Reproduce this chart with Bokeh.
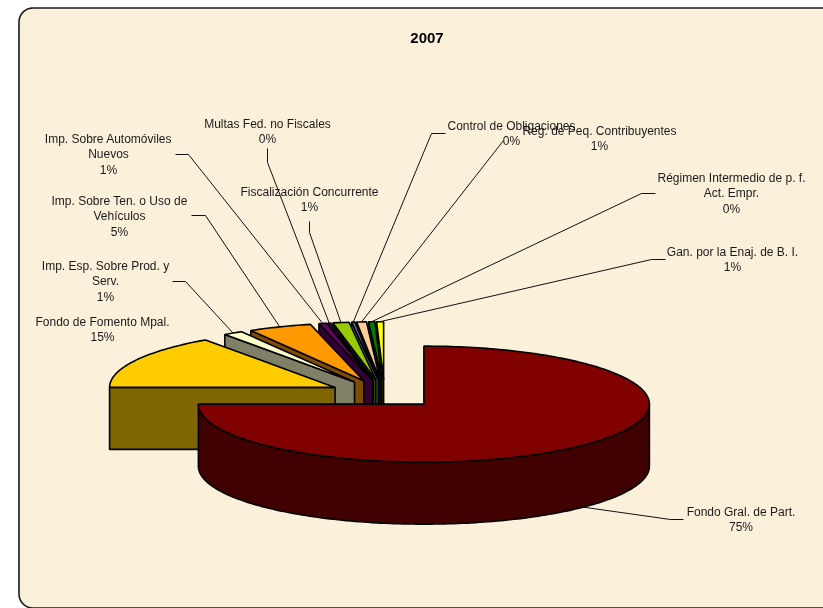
import math
from bokeh.plotting import figure
from bokeh.models import Range1d
from bokeh.core.properties import value
from bokeh.embed import file_html
from bokeh.resources import INLINE

# ---- data ----
title = "2007"
names = ["Fondo Gral. de Part.", "Fondo de Fomento Mpal.", "Imp. Esp. Sobre Prod. y Serv.",
         "Imp. Sobre Ten. o Uso de Vehículos", "Imp. Sobre Automóviles Nuevos", "Multas Fed. no Fiscales",
         "Fiscalización Concurrente", "Control de Obligaciones", "Reg. de Peq. Contribuyentes",
         "Régimen Intermedio de p. f. Act. Empr.", "Gan. por la Enaj. de B. I."]
shares = [75.0, 15.25, 1.4, 4.55, 0.55, 0.2, 1.15, 0.25, 0.7, 0.45, 0.5]
top_colors = ["#800000", "#FFCC00", "#FFFFCC", "#FF9900", "#660066", "#800080", "#99CC00", "#666699", "#FFCC99", "#008000", "#FFFF00"]
side_colors = ["#400000", "#806600", "#808066", "#804D00", "#330033", "#400040", "#4D6600", "#666699", "#806650", "#004000", "#808000"]

label_lines = [["Fondo Gral. de Part.", "75%"], ["Fondo de Fomento Mpal.", "15%"],
               ["Imp. Esp. Sobre Prod. y", "Serv.", "1%"], ["Imp. Sobre Ten. o Uso de", "Vehículos", "5%"],
               ["Imp. Sobre Automóviles", "Nuevos", "1%"], ["Multas Fed. no Fiscales", "0%"],
               ["Fiscalización Concurrente", "1%"], ["Control de Obligaciones", "0%"],
               ["Reg. de Peq. Contribuyentes", "1%"], ["Régimen Intermedio de p. f.", "Act. Empr.", "0%"],
               ["Gan. por la Enaj. de B. I.", "1%"]]
# ---- layout ----
label_cx = [740.5, 102, 105, 119, 108, 267, 309, 511, 599, 731, 732]
label_y0 = [511, 321, 265, 200, 138, 123, 191, 125, 130, 177, 251]
line_h = 15.6
elbows = [[(670, 519), (683, 519)], None, [(185, 281), (172, 281)], [(205, 215), (191, 215)],
          [(188, 154), (175, 154)], [(267, 162), (267, 148)], [(309, 232), (309, 221)],
          [(431, 133), (445, 133)], [(503, 140)], [(641, 193), (655, 193)], [(651, 259), (665, 259)]]
CX, CY, RX, RY, DEPTH, EXPL = 384.0, 393.5, 225.5, 58.0, 62.0, 0.247
FONT = "Liberation Sans"
FS = "12px"
BG = "#FBF1DB"

p = figure(width=823, height=608, x_range=Range1d(0, 823), y_range=Range1d(608, 0),
           toolbar_location=None, output_backend="svg", min_border=0,
           outline_line_color=None, background_fill_color="white", border_fill_color="white",
           styles={"position": "fixed", "left": "0px", "top": "0px"})
p.axis.visible = False
p.grid.visible = False

# frame with rounded corners
L, T, R_, B, r = 18.5, 7.5, 860.0, 607.5, 14.0
fx, fy = [], []
for (ax, ay, a0) in [(L + r, T + r, 180), (R_ - r, T + r, 270), (R_ - r, B - r, 0), (L + r, B - r, 90)]:
    for k in range(13):
        a = math.radians(a0 + k * 7.5)
        fx.append(ax + r * math.cos(a)); fy.append(ay + r * math.sin(a))
p.patch(fx, fy, fill_color=BG, line_color="#1a1a1a", line_width=1.6)

# slices
total = sum(shares)
cum = 0.0
slices = []
for s in shares:
    a0 = 2 * math.pi * cum / total
    a1 = 2 * math.pi * (cum + s) / total
    cum += s
    mid = (a0 + a1) / 2
    slices.append((a0, a1, mid, CX + EXPL * RX * math.sin(mid), CY - EXPL * RY * math.cos(mid)))

def pt(c, a):
    return c[0] + RX * math.sin(a), c[1] - RY * math.cos(a)

LW = 1.6
# painter's order: last slice first, biggest slice on top
for i in range(len(shares) - 1, -1, -1):
    a0, a1, mid, cx, cy = slices[i]
    n = max(3, int((a1 - a0) / 0.02))
    arc = [a0 + (a1 - a0) * k / n for k in range(n + 1)]
    if a0 > math.pi:
        ex, ey = pt((cx, cy), a0)
        p.patch([cx, ex, ex, cx], [cy, ey, ey + DEPTH, cy + DEPTH], fill_color=side_colors[i],
                line_color="black", line_width=LW)
    lo, hi = max(a0, math.pi / 2), min(a1, 3 * math.pi / 2)
    if hi > lo:
        m = int((hi - lo) / 0.02)
        ang = [lo + (hi - lo) * k / m for k in range(m + 1)]
        tx = [pt((cx, cy), a)[0] for a in ang]
        ty = [pt((cx, cy), a)[1] for a in ang]
        p.patch(tx + tx[::-1], ty + [y + DEPTH for y in ty[::-1]], fill_color=side_colors[i],
                line_color="black", line_width=LW)
    xs = [cx] + [pt((cx, cy), a)[0] for a in arc]
    ys = [cy] + [pt((cx, cy), a)[1] for a in arc]
    p.patch(xs, ys, fill_color=top_colors[i], line_color="black", line_width=LW)

# leader lines
for i, e in enumerate(elbows):
    if not e:
        continue
    a0, a1, mid, cx, cy = slices[i]
    sx, sy = pt((cx, cy), mid)
    if i == 0:
        sy += DEPTH
    p.line([sx] + [q[0] for q in e], [sy] + [q[1] for q in e], line_color="#111111", line_width=1.0)

# labels
tx, ty, tt = [], [], []
for i, lines in enumerate(label_lines):
    for j, t in enumerate(lines):
        tx.append(label_cx[i]); ty.append(label_y0[i] + j * line_h); tt.append(t)
p.text(tx, ty, tt, text_font_size=FS, text_font=value(FONT),
       text_align="center", text_baseline="middle", text_color="#1a1a1a")
p.text([426.5], [37.5], [title], text_font_size="15px", text_font=value(FONT), text_font_style="bold",
       text_align="center", text_baseline="middle", text_color="black")

open("out.html", "w").write(file_html(p, INLINE))
